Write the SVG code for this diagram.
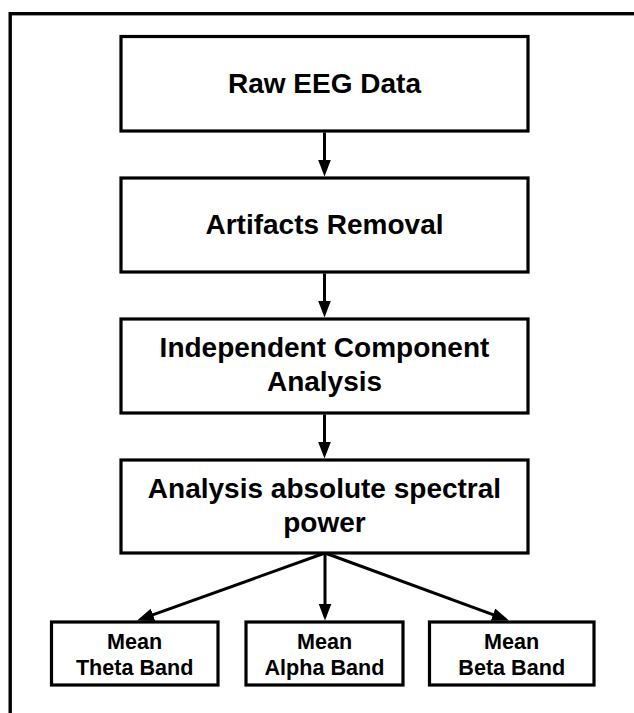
<svg xmlns="http://www.w3.org/2000/svg" width="634" height="713" viewBox="0 0 634 713">
  <style>
    .box { fill: #ffffff; stroke: #000000; stroke-width: 3.2; }
    .frame { fill: none; stroke: #000000; stroke-width: 3.4; }
    .t { font-family: "Liberation Sans", Arial, sans-serif; font-weight: bold; font-size: 28px; fill: #000000; text-anchor: middle; }
    .s { font-family: "Liberation Sans", Arial, sans-serif; font-weight: bold; font-size: 21.6px; fill: #000000; text-anchor: middle; }
    .conn { stroke: #000000; stroke-width: 3; fill: none; }
  </style>
  <defs>
    <marker id="arrow" markerUnits="userSpaceOnUse" markerWidth="17" markerHeight="13" refX="13" refY="6.5" orient="auto">
      <path d="M0,0 L17,6.5 L0,13 z" fill="#000000"/>
    </marker>
  </defs>
  <rect width="634" height="713" fill="#ffffff"/>
  <rect class="frame" x="10.2" y="13.7" width="700" height="760"/>

  <g id="connectors">
    <line class="conn" x1="324.5" y1="132.5" x2="324.5" y2="172.5" marker-end="url(#arrow)"/>
    <line class="conn" x1="324.5" y1="273.5" x2="324.5" y2="313.5" marker-end="url(#arrow)"/>
    <line class="conn" x1="324.5" y1="414.5" x2="324.5" y2="454.5" marker-end="url(#arrow)"/>
    <line class="conn" x1="325" y1="553" x2="140.8" y2="619.2" marker-end="url(#arrow)"/>
    <line class="conn" x1="325" y1="553" x2="325" y2="616.5" marker-end="url(#arrow)"/>
    <line class="conn" x1="325" y1="553" x2="505.2" y2="619.1" marker-end="url(#arrow)"/>
  </g>

  <g id="raw-eeg">
    <rect class="box" x="121" y="36.5" width="407" height="94.5"/>
    <text class="t" x="324.5" y="93">Raw EEG Data</text>
  </g>
  <g id="artifacts-removal">
    <rect class="box" x="121" y="178" width="407" height="94"/>
    <text class="t" x="324.5" y="234">Artifacts Removal</text>
  </g>
  <g id="ica">
    <rect class="box" x="121" y="319" width="407" height="94"/>
    <text class="t" x="324.5" y="356.5">Independent Component</text>
    <text class="t" x="324.5" y="390.5">Analysis</text>
  </g>
  <g id="spectral-power">
    <rect class="box" x="121" y="460" width="407" height="93"/>
    <text class="t" x="324.5" y="498">Analysis absolute spectral</text>
    <text class="t" x="324.5" y="532">power</text>
  </g>
  <g id="theta">
    <rect class="box" x="51.5" y="622" width="166.5" height="63"/>
    <text class="s" x="134.7" y="649">Mean</text>
    <text class="s" x="134.7" y="675">Theta Band</text>
  </g>
  <g id="alpha">
    <rect class="box" x="246" y="622" width="157" height="63"/>
    <text class="s" x="324.5" y="649">Mean</text>
    <text class="s" x="324.5" y="675">Alpha Band</text>
  </g>
  <g id="beta">
    <rect class="box" x="429.5" y="622" width="164.5" height="63"/>
    <text class="s" x="511.7" y="649">Mean</text>
    <text class="s" x="511.7" y="675">Beta Band</text>
  </g>
</svg>
